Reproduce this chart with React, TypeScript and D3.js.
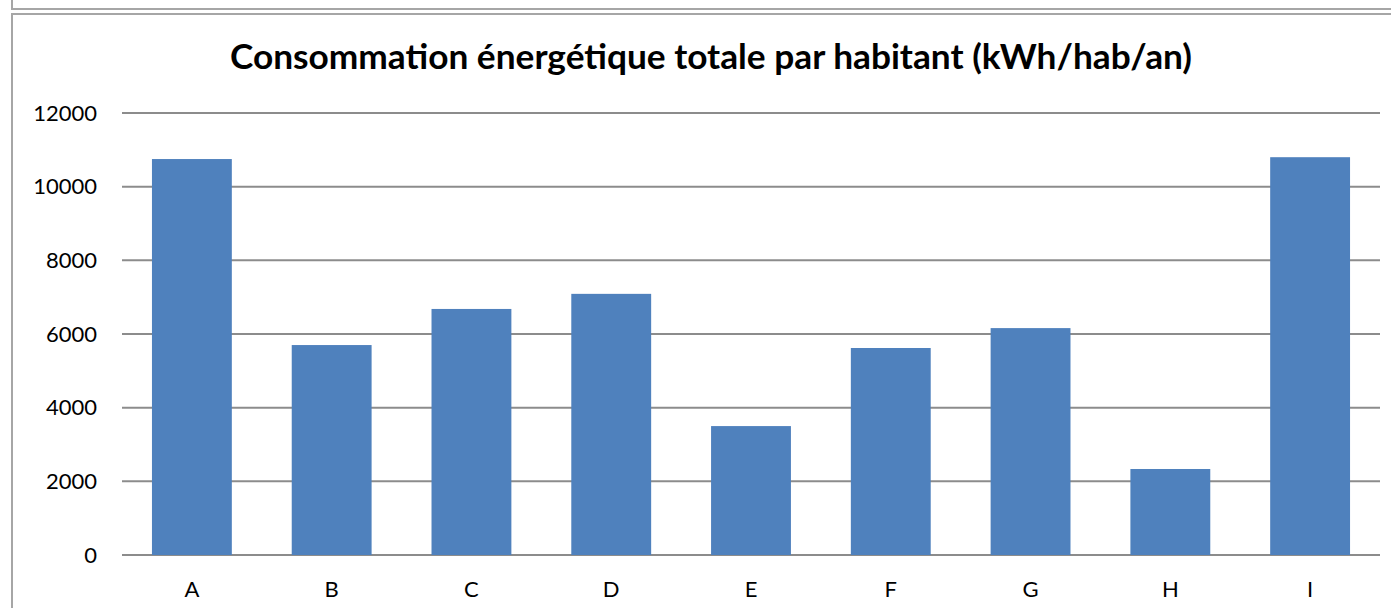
import { useEffect, useRef } from 'react';
import * as d3 from 'd3';

const categories = ['A', 'B', 'C', 'D', 'E', 'F', 'G', 'H', 'I'];
const values = [10750, 5700, 6680, 7090, 3500, 5620, 6160, 2335, 10800];
const yTicks = [0, 2000, 4000, 6000, 8000, 10000, 12000];
const title = 'Consommation énergétique totale par habitant (kWh/hab/an)';

const W = 1391;
const H = 608;

const App = () => {
  const ref = useRef<SVGSVGElement>(null);

  useEffect(() => {
    const svg = d3.select(ref.current);
    svg.selectAll('*').remove();

    const left = 122;
    const right = 1380;
    const top = 113;
    const bottom = 555;
    const font = 'Lato, "Open Sans", sans-serif';

    // frames (a box above, cut off, and the chart's own box)
    svg.append('rect').attr('x', 12).attr('y', -20).attr('width', W).attr('height', 29)
      .attr('fill', 'none').attr('stroke', '#a6a6a6').attr('stroke-width', 2);
    svg.append('rect').attr('x', 12).attr('y', 14).attr('width', W).attr('height', H)
      .attr('fill', 'none').attr('stroke', '#a6a6a6').attr('stroke-width', 2);

    const x = d3.scaleBand()
      .domain(categories)
      .range([left, right])
      .paddingInner(0.4286)
      .paddingOuter(0.2143);

    const y = d3.scaleLinear().domain([0, 12000]).range([bottom, top]);

    // grid lines
    svg.append('g')
      .selectAll('line')
      .data(yTicks)
      .enter().append('line')
      .attr('x1', left)
      .attr('x2', right)
      .attr('y1', d => y(d))
      .attr('y2', d => y(d))
      .attr('stroke', '#8c8c8c')
      .attr('stroke-width', 2);

    // y labels
    svg.append('g')
      .selectAll('text')
      .data(yTicks)
      .enter().append('text')
      .attr('x', 97)
      .attr('y', d => y(d))
      .attr('dy', '0.35em')
      .attr('text-anchor', 'end')
      .attr('font-family', font)
      .attr('font-size', 22)
      .attr('fill', '#000')
      .text(d => d);

    // bars
    svg.append('g')
      .selectAll('rect')
      .data(values)
      .enter().append('rect')
      .attr('x', (d, i) => x(categories[i]) as number)
      .attr('y', d => y(d))
      .attr('width', x.bandwidth())
      .attr('height', d => bottom - y(d))
      .attr('fill', '#4f81bd');

    // x labels
    svg.append('g')
      .selectAll('text')
      .data(categories)
      .enter().append('text')
      .attr('x', d => (x(d) as number) + x.bandwidth() / 2)
      .attr('y', 597)
      .attr('text-anchor', 'middle')
      .attr('font-family', font)
      .attr('font-size', 22)
      .attr('fill', '#000')
      .text(d => d);

    svg.append('text')
      .attr('x', 711)
      .attr('y', 69)
      .attr('text-anchor', 'middle')
      .attr('font-family', font)
      .attr('font-weight', 'bold')
      .attr('font-size', 34)
      .attr('textLength', 962)
      .attr('lengthAdjust', 'spacingAndGlyphs')
      .attr('fill', '#000')
      .text(title);
  }, []);

  return (
    <svg ref={ref} width={W} height={H}
      style={{ position: 'absolute', left: 0, top: 0, background: '#fff' }} />
  );
};

export default App;
